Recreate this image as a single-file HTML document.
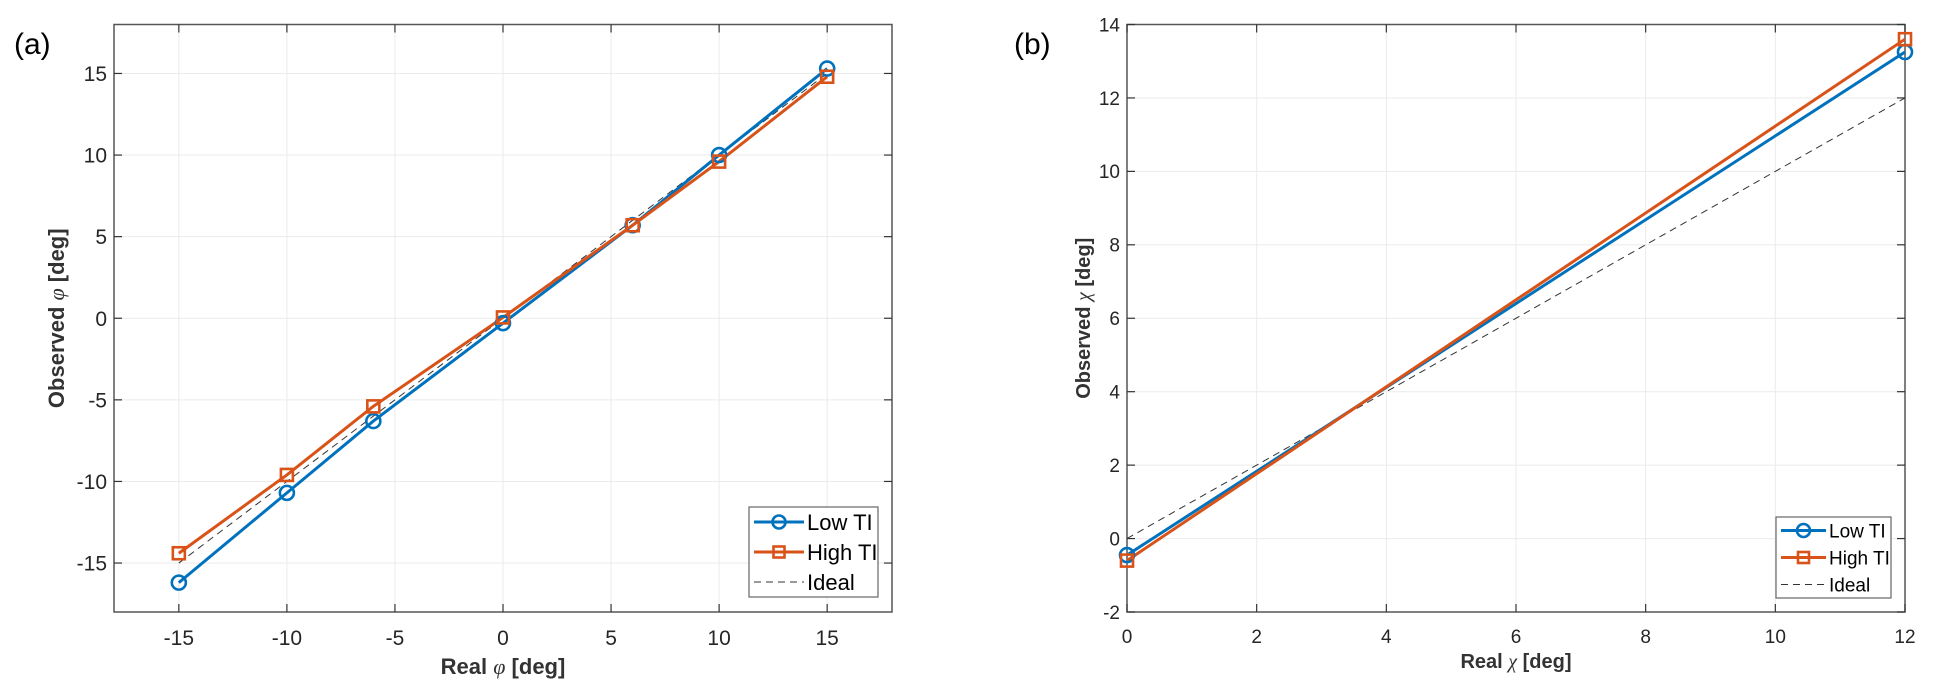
<!DOCTYPE html>
<html><head><meta charset="utf-8"><style>
body{margin:0;background:#fff;}
svg text{font-family:"Liberation Sans",sans-serif;}
</style></head><body>
<svg id="fig" width="1933" height="694" xmlns="http://www.w3.org/2000/svg"></svg>
<script>
// Panel (a) data
const aX = [-15,-10,-6,0,6,10,15];
const aLow = [-16.2,-10.7,-6.3,-0.3,5.7,10.0,15.3];
const aHigh = [-14.4,-9.6,-5.4,0.05,5.7,9.6,14.8];
const aIdealX = [-15,15];
const aIdealY = [-15,15];
const aXTicks = [-15,-10,-5,0,5,10,15];
const aYTicks = [-15,-10,-5,0,5,10,15];
// Panel (b) data
const bX = [0,12];
const bLow = [-0.45,13.25];
const bHigh = [-0.6,13.6];
const bIdealX = [0,12];
const bIdealY = [0,12];
const bXTicks = [0,2,4,6,8,10,12];
const bYTicks = [-2,0,2,4,6,8,10,12,14];

const NS="http://www.w3.org/2000/svg";
const svg=document.getElementById('fig');
function mk(tag,attrs,parent){const e=document.createElementNS(NS,tag);for(const k in attrs)e.setAttribute(k,attrs[k]);(parent||svg).appendChild(e);return e;}

function panel(cfg){
  const g=mk('g',{});
  
  
  const sx=v=>cfg.x0+(v-cfg.xmin)/(cfg.xmax-cfg.xmin)*(cfg.x1-cfg.x0);
  const sy=v=>cfg.y1-(v-cfg.ymin)/(cfg.ymax-cfg.ymin)*(cfg.y1-cfg.y0);
  cfg.xt.forEach(t=>{const l=mk('line',{x1:sx(t),x2:sx(t),y1:cfg.y0,y2:cfg.y1,stroke:'#ebebeb','stroke-width':1},g);
    });
  cfg.yt.forEach(t=>{const l=mk('line',{x1:cfg.x0,x2:cfg.x1,y1:sy(t),y2:sy(t),stroke:'#ebebeb','stroke-width':1},g);
    });
  const box=mk('rect',{x:cfg.x0,y:cfg.y0,width:cfg.x1-cfg.x0,height:cfg.y1-cfg.y0,fill:'none',stroke:'#555','stroke-width':1.5},g);
  
  cfg.xt.forEach(t=>{
    mk('line',{x1:sx(t),x2:sx(t),y1:cfg.y1,y2:cfg.y1-8,stroke:'#333','stroke-width':1.2},g);
    mk('line',{x1:sx(t),x2:sx(t),y1:cfg.y0,y2:cfg.y0+8,stroke:'#333','stroke-width':1.2},g);
    const tx=mk('text',{x:sx(t),y:cfg.y1+cfg.fs+12,'text-anchor':'middle','font-size':cfg.fs,fill:'#262626'},g);
    tx.textContent=t;
    
  });
  cfg.yt.forEach(t=>{
    mk('line',{x1:cfg.x0,x2:cfg.x0+8,y1:sy(t),y2:sy(t),stroke:'#333','stroke-width':1.2},g);
    mk('line',{x1:cfg.x1,x2:cfg.x1-8,y1:sy(t),y2:sy(t),stroke:'#333','stroke-width':1.2},g);
    const tx=mk('text',{x:cfg.x0-7,y:sy(t)+cfg.fs*0.36,'text-anchor':'end','font-size':cfg.fs,fill:'#262626'},g);
    tx.textContent=t;
    
  });
  const id=mk('polyline',{points:cfg.ix.map((v,i)=>sx(v)+','+sy(cfg.iy[i])).join(' '),fill:'none',stroke:'#333','stroke-width':1,'stroke-dasharray':'7,5'},g);
  
  const low=mk('polyline',{points:cfg.xs.map((v,i)=>sx(v)+','+sy(cfg.low[i])).join(' '),fill:'none',stroke:'#0072BD','stroke-width':3},g);
  
  const high=mk('polyline',{points:cfg.xs.map((v,i)=>sx(v)+','+sy(cfg.high[i])).join(' '),fill:'none',stroke:'#D95319','stroke-width':3},g);
  
  cfg.xs.forEach((v,i)=>{
    const c=mk('circle',{cx:sx(v),cy:sy(cfg.low[i]),r:7,fill:'none',stroke:'#0072BD','stroke-width':2.6},g);
    
  });
  cfg.xs.forEach((v,i)=>{
    const r=mk('rect',{x:sx(v)-6,y:sy(cfg.high[i])-6,width:12,height:12,fill:'none',stroke:'#D95319','stroke-width':2.6},g);
    
  });
  const L=cfg.leg;
  const lg=mk('g',{},g);
  
  mk('rect',{x:L.x,y:L.y,width:L.w,height:L.h,fill:'#fff',stroke:'#666','stroke-width':1.2},lg);
  const rowH=L.h/3;
  const entries=[['Low TI','#0072BD','c'],['High TI','#D95319','s'],['Ideal','#333','d']];
  entries.forEach((e,i)=>{
    const cy=L.y+rowH*(i+0.5);
    const eg=mk('g',{},lg);
    
    const x1=L.x+5,x2=L.x+L.lw;
    if(e[2]==='d') mk('line',{x1:x1,x2:x2,y1:cy,y2:cy,stroke:'#333','stroke-width':1,'stroke-dasharray':'7,5'},eg);
    else mk('line',{x1:x1,x2:x2,y1:cy,y2:cy,stroke:e[1],'stroke-width':3},eg);
    const mx=(x1+x2)/2;
    if(e[2]==='c') mk('circle',{cx:mx,cy:cy,r:6.5,fill:'none',stroke:e[1],'stroke-width':2.6},eg);
    if(e[2]==='s') mk('rect',{x:mx-5.5,y:cy-5.5,width:11,height:11,fill:'none',stroke:e[1],'stroke-width':2.6},eg);
    const t=mk('text',{x:x2+3,y:cy+L.fs*0.36,'font-size':L.fs,fill:'#000'},eg);
    t.textContent=e[0];
  });
  const xt=mk('text',{x:(cfg.x0+cfg.x1)/2,y:cfg.xty,'text-anchor':'middle','font-size':cfg.tfs,'font-weight':'bold',fill:'#333'},g);
  xt.innerHTML='Real <tspan font-family="Liberation Serif" font-style="italic" font-weight="normal">'+cfg.sym+'</tspan> [deg]';
  
  const ymid=(cfg.y0+cfg.y1)/2;
  const yt=mk('text',{x:cfg.ytx,y:ymid,'text-anchor':'middle','font-size':cfg.tfs,'font-weight':'bold',fill:'#333',transform:'rotate(-90 '+cfg.ytx+' '+ymid+')'},g);
  yt.innerHTML='Observed <tspan font-family="Liberation Serif" font-style="italic" font-weight="normal">'+cfg.sym+'</tspan> [deg]';
  
  const pl=mk('text',{x:cfg.plx,y:54,'font-size':30,fill:'#000'},g);
  pl.textContent=cfg.plabel;
  
}

panel({name:'panel-a',x0:114,x1:892,y0:24.5,y1:612,xmin:-18,xmax:18,ymin:-18,ymax:18,
  xt:aXTicks,yt:aYTicks,xs:aX,low:aLow,high:aHigh,ix:aIdealX,iy:aIdealY,fs:21,tfs:22,
  leg:{x:749,y:507,w:129,h:90,lw:55,fs:22},xty:674,ytx:64,sym:'φ',plabel:'(a)',plx:14});
panel({name:'panel-b',x0:1127,x1:1905,y0:24.5,y1:612,xmin:0,xmax:12,ymin:-2,ymax:14,
  xt:bXTicks,yt:bYTicks,xs:bX,low:bLow,high:bHigh,ix:bIdealX,iy:bIdealY,fs:19,tfs:20,
  leg:{x:1776,y:517,w:115,h:81,lw:50,fs:19},xty:668,ytx:1090,sym:'χ',plabel:'(b)',plx:1014});
</script>
</body></html>
